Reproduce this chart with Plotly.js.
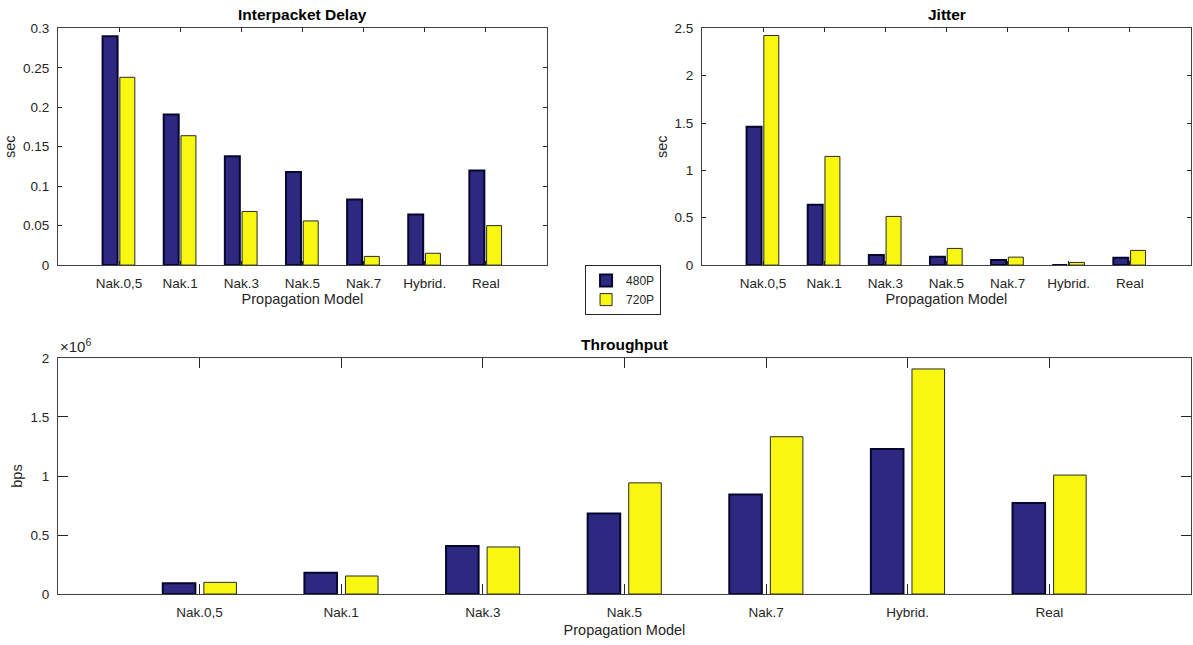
<!DOCTYPE html>
<html>
<head>
<meta charset="utf-8">
<script src="https://cdn.plot.ly/plotly-3.0.1.min.js"></script>
<style>html,body{margin:0;padding:0;background:#fff}#chart{width:1193px;height:645px}</style>
</head>
<body>
<div id="chart"></div>
<script>
// ---- data ----
var categories = ["Nak.0,5", "Nak.1", "Nak.3", "Nak.5", "Nak.7", "Hybrid.", "Real"];
var seriesNames = ["480P", "720P"];
var delay480 = [0.290, 0.191, 0.138, 0.118, 0.083, 0.064, 0.120];
var delay720 = [0.238, 0.164, 0.068, 0.056, 0.011, 0.015, 0.050];
var jitter480 = [1.46, 0.637, 0.106, 0.088, 0.053, 0.0, 0.077];
var jitter720 = [2.425, 1.148, 0.514, 0.176, 0.084, 0.028, 0.155];
var thr480 = [91000, 181000, 407000, 682000, 843000, 1228000, 772000];
var thr720 = [99000, 153000, 399000, 942000, 1333000, 1907000, 1008000];
var thrTickVals = [0, 500000, 1000000, 1500000, 2000000];
var thrTickText = ["0", "0.5", "1", "1.5", "2"];

var xs = categories.map(function (_, i) { return i + 1; });
var c480 = "#2d2880", c480line = "#06062e";
var c720 = "#f7f710", c720line = "#2a2a2a";
var txt = "#262626";
var fnt = "Liberation Sans, Arial, Helvetica, sans-serif";

function bar(y, name, xa, ya, w, off, show) {
  var is480 = name === seriesNames[0];
  return {
    type: "bar", x: xs, y: y, name: name, xaxis: xa, yaxis: ya,
    width: w, offset: off, showlegend: show, legendgroup: name,
    marker: { color: is480 ? c480 : c720,
              line: { color: is480 ? c480line : c720line, width: is480 ? 2 : 1 } },
    hoverinfo: "y"
  };
}

var data = [
  bar(delay480, seriesNames[0], "x", "y", 0.245, -0.27, true),
  bar(delay720, seriesNames[1], "x", "y", 0.245, 0.012, true),
  bar(jitter480, seriesNames[0], "x2", "y2", 0.245, -0.27, false),
  bar(jitter720, seriesNames[1], "x2", "y2", 0.245, 0.012, false),
  bar(thr480, seriesNames[0], "x3", "y3", 0.23, -0.26, false),
  bar(thr720, seriesNames[1], "x3", "y3", 0.23, 0.03, false)
];

function xax(domain, anchor, tl, standoff) {
  return {
    domain: domain, anchor: anchor, range: [0, 8],
    tickvals: xs, ticktext: categories,
    ticks: "inside", ticklen: tl, tickcolor: txt, mirror: "ticks",
    ticklabelstandoff: 6,
    showline: true, linecolor: "#404040", linewidth: 1,
    showgrid: false, zeroline: false, fixedrange: true,
    tickfont: { family: fnt, size: 13.5, color: txt },
    title: { text: "Propagation Model", font: { family: fnt, size: 14.5, color: txt }, standoff: standoff }
  };
}
function yax(domain, anchor, range, dtick, tl, title, standoff) {
  return {
    domain: domain, anchor: anchor, range: range, dtick: dtick, tick0: 0,
    ticks: "inside", ticklen: tl, tickcolor: txt, mirror: "ticks",
    ticklabelstandoff: 5,
    showline: true, linecolor: "#404040", linewidth: 1,
    showgrid: false, zeroline: false, fixedrange: true,
    tickfont: { family: fnt, size: 13.5, color: txt },
    title: { text: title, font: { family: fnt, size: 14.5, color: txt }, standoff: standoff }
  };
}

var topY = [0.589, 0.956];
var botY = [0.079, 0.445];

var layout = {
  width: 1193, height: 645,
  margin: { l: 0, r: 0, t: 0, b: 0 },
  paper_bgcolor: "#ffffff", plot_bgcolor: "#ffffff",
  barmode: "overlay",
  font: { family: fnt, color: txt },
  xaxis: xax([0.0486, 0.4585], "y", 4, 2),
  yaxis: yax(topY, "x", [0, 0.3], 0.05, 4, "sec", 3),
  xaxis2: xax([0.5884, 0.9983], "y2", 4, 2),
  yaxis2: yax(topY, "x2", [0, 2.5], 0.5, 4, "sec", 3),
  xaxis3: xax([0.0486, 0.9983], "y3", 10, 5),
  yaxis3: Object.assign(yax(botY, "x3", [0, 2000000], null, 10, "bps", 4),
                        { tickvals: thrTickVals, ticktext: thrTickText, dtick: undefined }),
  showlegend: true,
  legend: {
    x: 0.4904, y: 0.589, xanchor: "left", yanchor: "top",
    bordercolor: "#262626", borderwidth: 1, bgcolor: "#ffffff",
    font: { family: fnt, size: 12, color: txt },
    itemwidth: 30, tracegroupgap: 0, traceorder: "normal"
  },
  annotations: [
    { text: "<b>Interpacket Delay</b>", xref: "paper", yref: "paper", x: 0.2536, y: 0.978,
      yanchor: "middle", xanchor: "center",
      showarrow: false, font: { family: fnt, size: 15.5, color: "#000" } },
    { text: "<b>Jitter</b>", xref: "paper", yref: "paper", x: 0.7934, y: 0.978,
      yanchor: "middle", xanchor: "center",
      showarrow: false, font: { family: fnt, size: 15.5, color: "#000" } },
    { text: "<b>Throughput</b>", xref: "paper", yref: "paper", x: 0.5235, y: 0.466,
      yanchor: "middle", xanchor: "center",
      showarrow: false, font: { family: fnt, size: 15.5, color: "#000" } },
    { text: "×10<sup>6</sup>", xref: "paper", yref: "paper", x: 0.0486, y: 0.447,
      xanchor: "left", yanchor: "bottom", showarrow: false,
      font: { family: fnt, size: 15, color: txt } }
  ]
};

Plotly.newPlot("chart", data, layout, { staticPlot: true, displayModeBar: false });
</script>
</body>
</html>
